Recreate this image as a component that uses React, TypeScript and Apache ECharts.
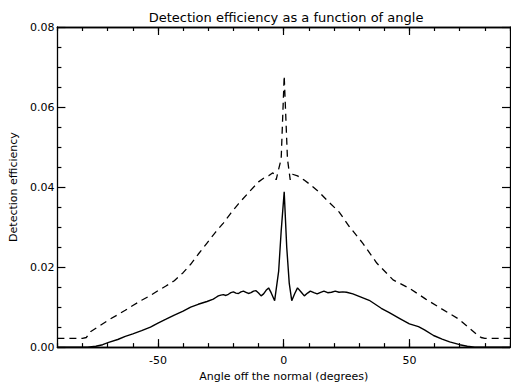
import React, { useEffect, useRef } from "react";
import * as echarts from "echarts";

const titleText = "Detection efficiency as a function of angle";
const xName = "Angle off the normal (degrees)";
const yName = "Detection efficiency";
const xMajorTicks = [-50, 0, 50];

// [angle (deg), efficiency] – dashed curve
const dashedSeries: [number, number][] = [
  [-90, 0.0022], [-80, 0.0022], [-78.5, 0.0024], [-76.7, 0.0039], [-73, 0.0054],
  [-69.6, 0.0068], [-66, 0.0081], [-63, 0.0092], [-60, 0.0104], [-56.5, 0.0117],
  [-53, 0.0129], [-50, 0.0141], [-47, 0.0152], [-43.5, 0.0166], [-40, 0.0186],
  [-37, 0.0207], [-34, 0.0232], [-30.5, 0.026], [-27, 0.0288], [-24, 0.031],
  [-21, 0.0335], [-18, 0.0358], [-14, 0.0386], [-10, 0.0413], [-8, 0.0422],
  [-6, 0.0428], [-4.3, 0.0436], [-3, 0.0418], [-2, 0.0445], [-1, 0.047],
  [0.2, 0.0678], [1.5, 0.047], [2.6, 0.0418], [3.5, 0.0432], [5.5, 0.0428],
  [8, 0.0418], [10.6, 0.0406], [14, 0.0388], [18, 0.0362], [22, 0.0338],
  [26, 0.0302], [31.4, 0.026], [37, 0.021], [43.5, 0.0168], [50, 0.0147],
  [56.5, 0.012], [63, 0.0095], [69.6, 0.007], [73, 0.0052], [76.7, 0.0032],
  [78.5, 0.0024], [80, 0.0022], [90, 0.0022],
];

// [angle (deg), efficiency] – solid curve
const solidSeries: [number, number][] = [
  [-90, 0], [-78, 0], [-74.7, 0.0002], [-72, 0.0006], [-69.6, 0.0012], [-66, 0.0019],
  [-63, 0.0027], [-60, 0.0033], [-56.5, 0.0041], [-53, 0.005], [-50, 0.006],
  [-47, 0.0069], [-43.5, 0.008], [-40, 0.009], [-37, 0.01], [-34, 0.0107],
  [-30.5, 0.0114], [-28, 0.012], [-27, 0.0124], [-26, 0.0128], [-25, 0.013],
  [-24, 0.0131], [-23, 0.0129], [-22, 0.0132], [-21, 0.0136], [-20, 0.0138],
  [-19, 0.0135], [-18, 0.0134], [-17, 0.0138], [-16, 0.014], [-15, 0.0137],
  [-14, 0.0134], [-13, 0.0136], [-12, 0.014], [-11, 0.0141], [-10, 0.0135],
  [-9, 0.0128], [-8, 0.0133], [-7, 0.0142], [-6, 0.0148], [-5, 0.0136],
  [-3.6, 0.0116], [-2, 0.019], [-1, 0.029], [0.2, 0.0388], [1.2, 0.025],
  [2.2, 0.016], [3.2, 0.0116], [4.4, 0.0134], [5.5, 0.0148], [7, 0.0137],
  [8.2, 0.0128], [9.5, 0.0135], [10.6, 0.014], [12, 0.0136], [13.3, 0.0133],
  [14.7, 0.0137], [16, 0.014], [17.5, 0.0136], [19, 0.0137], [20.5, 0.014],
  [22, 0.0137], [23.5, 0.0138], [25, 0.0137], [27.5, 0.0133], [30, 0.0127],
  [34, 0.0117], [38.8, 0.0097], [42, 0.0086], [46, 0.0072], [50, 0.0058],
  [53.6, 0.0051], [56, 0.0043], [59.6, 0.0029], [63, 0.002], [66, 0.0013],
  [70, 0.0006], [73, 0.0002], [76, 0], [90, 0],
];

const FONT = "DejaVu Sans";

function xAxisCfg(position: "top" | "bottom", major: boolean, withLabels: boolean): any {
  const cfg: any = {
    type: "value",
    position,
    min: -90,
    max: 90,
    splitLine: { show: false },
    axisLine: { show: true, onZero: false, lineStyle: { color: "black", width: 1.3 } },
    axisTick: {
      show: true,
      inside: true,
      length: major ? 8 : 4,
      lineStyle: { color: "black", width: 1.2 },
    },
    axisLabel: { show: false },
  };
  if (major) {
    cfg.axisTick.customValues = xMajorTicks;
  } else {
    cfg.interval = 10;
  }
  if (withLabels) {
    cfg.axisLabel = {
      show: true,
      customValues: xMajorTicks,
      margin: 8,
      fontFamily: FONT,
      fontSize: 11,
      color: "black",
      formatter: (v: number) => String(v),
    };
    cfg.name = xName;
    cfg.nameLocation = "middle";
    cfg.nameGap = 22;
    cfg.nameTextStyle = { fontFamily: FONT, fontSize: 11, color: "black" };
  }
  return cfg;
}

function yAxisCfg(position: "left" | "right", withLabels: boolean): any {
  const cfg: any = {
    type: "value",
    position,
    min: 0,
    max: 0.08,
    interval: 0.02,
    splitLine: { show: false },
    axisLine: { show: true, onZero: false, lineStyle: { color: "black", width: 1.3 } },
    axisTick: { show: true, inside: true, length: 8, lineStyle: { color: "black", width: 1.2 } },
    minorTick: { show: true, splitNumber: 4, length: 4, lineStyle: { color: "black", width: 1.2 } },
    axisLabel: { show: false },
  };
  if (withLabels) {
    cfg.axisLabel = {
      show: true,
      margin: 3,
      fontFamily: FONT,
      fontSize: 11,
      color: "black",
      formatter: (v: number) => v.toFixed(2),
    };
    cfg.name = yName;
    cfg.nameLocation = "middle";
    cfg.nameGap = 28;
    cfg.nameTextStyle = { fontFamily: FONT, fontSize: 11, color: "black" };
  }
  return cfg;
}

export default function App() {
  const ref = useRef<HTMLDivElement>(null);
  useEffect(() => {
    document.body.style.margin = "0";
    const chart = echarts.init(ref.current!, null, { renderer: "svg" });
    chart.setOption({
      animation: false,
      backgroundColor: "#fff",
      title: {
        text: titleText,
        left: 281,
        top: 6,
        textAlign: "center",
        textStyle: { fontFamily: FONT, fontSize: 13, fontWeight: "normal", color: "black" },
      },
      grid: { left: 52, right: 1, top: 27, bottom: 35 },
      xAxis: [
        xAxisCfg("bottom", true, true),
        xAxisCfg("bottom", false, false),
        xAxisCfg("top", true, false),
        xAxisCfg("top", false, false),
      ],
      yAxis: [yAxisCfg("left", true), yAxisCfg("right", false)],
      series: [
        {
          type: "line",
          data: dashedSeries,
          xAxisIndex: 0,
          yAxisIndex: 0,
          showSymbol: false,
          lineStyle: { color: "black", width: 1.3, type: [7, 5] },
        },
        {
          type: "line",
          data: solidSeries,
          xAxisIndex: 0,
          yAxisIndex: 0,
          showSymbol: false,
          lineStyle: { color: "black", width: 1.4 },
        },
      ],
    });
    return () => chart.dispose();
  }, []);
  return (
    <div
      ref={ref}
      style={{ position: "fixed", left: 0, top: 0, width: 511, height: 387, background: "#fff" }}
    />
  );
}
